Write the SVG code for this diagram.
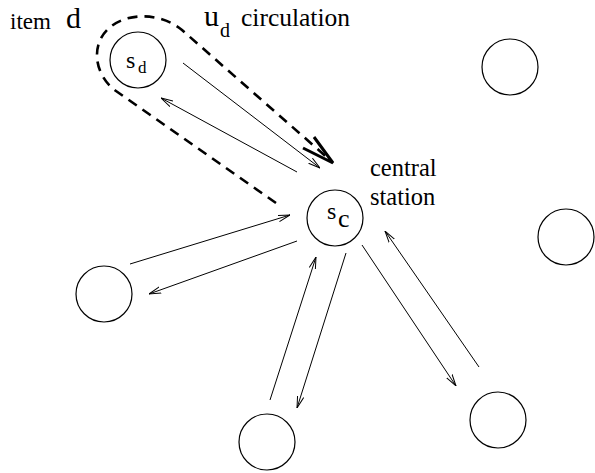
<svg xmlns="http://www.w3.org/2000/svg" width="595" height="473" viewBox="0 0 595 473">
<defs>
<style>
.node{fill:none;stroke:#000;stroke-width:1.2}
.arr{fill:none;stroke:#000;stroke-width:1}
.dash{fill:none;stroke:#000;stroke-width:2.6;stroke-dasharray:10 7}
</style>
<marker id="ah" viewBox="0 0 12 8" refX="12" refY="4" markerWidth="12" markerHeight="8" markerUnits="userSpaceOnUse" orient="auto">
<path d="M0,0.8 L12,4 L0,7.2" fill="none" stroke="#000" stroke-width="1"/>
</marker>
</defs>
<rect width="595" height="473" fill="#fff"/>
<g id="connectors">
<path class="dash" d="M276,203 L116,91 C95,76 90,46 108,29 C126,12 160,12 182,30 L330,160"/>
<polyline points="303,148 333,163 314,137" fill="none" stroke="#000" stroke-width="3"/>
<line class="arr" x1="183" y1="63" x2="320" y2="168" marker-end="url(#ah)"/>
<line class="arr" x1="297" y1="172" x2="161" y2="98" marker-end="url(#ah)"/>
<line class="arr" x1="130" y1="264" x2="290" y2="215" marker-end="url(#ah)"/>
<line class="arr" x1="297" y1="241" x2="149" y2="294" marker-end="url(#ah)"/>
<line class="arr" x1="270" y1="400" x2="316" y2="257" marker-end="url(#ah)"/>
<line class="arr" x1="346" y1="253" x2="297" y2="408" marker-end="url(#ah)"/>
<line class="arr" x1="362" y1="245" x2="456" y2="386" marker-end="url(#ah)"/>
<line class="arr" x1="479" y1="367" x2="385" y2="231" marker-end="url(#ah)"/>
</g>
<g id="sd" font-family="'Liberation Serif', 'Times New Roman', serif">
<circle class="node" cx="138" cy="60" r="28"/>
<text x="126" y="68" font-size="24">s</text>
<text x="138" y="73" font-size="17">d</text>
</g>
<g id="sc" font-family="'Liberation Serif', 'Times New Roman', serif">
<circle class="node" cx="335" cy="218" r="28"/>
<text x="327" y="219" font-size="24">s</text>
<text x="338" y="227" font-size="26">c</text>
</g>
<g id="n-left"><circle class="node" cx="104" cy="294" r="28"/></g>
<g id="n-bottom"><circle class="node" cx="267" cy="442" r="28"/></g>
<g id="n-bottomright"><circle class="node" cx="498" cy="420" r="28"/></g>
<g id="n-topright"><circle class="node" cx="510" cy="67" r="28"/></g>
<g id="n-right"><circle class="node" cx="566" cy="237" r="28"/></g>
<g id="labels" font-family="'Liberation Serif', 'Times New Roman', serif">
<text x="10" y="29" font-size="23">item</text>
<text x="66" y="28" font-size="30">d</text>
<text x="204" y="26" font-size="30">u</text>
<text x="220" y="37" font-size="20">d</text>
<text x="241" y="26" font-size="25.5">circulation</text>
<text x="370" y="176" font-size="24.5">central</text>
<text x="370" y="205" font-size="24.5">station</text>
</g>
</svg>
